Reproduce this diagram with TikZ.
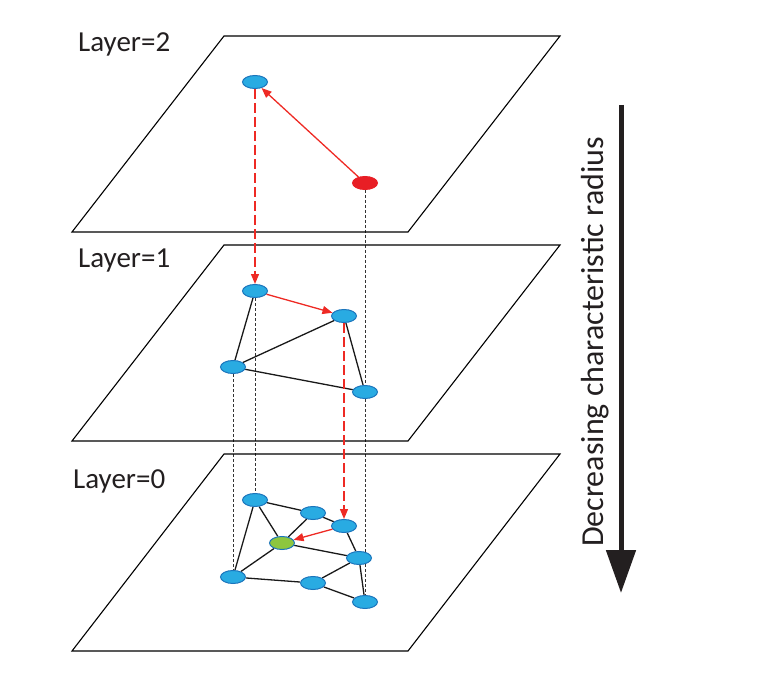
\documentclass[tikz,border=0pt]{standalone}
\usepackage{fontspec}
\setmainfont{Carlito}
\usetikzlibrary{shapes.geometric,arrows.meta}
\pgfdeclarelayer{background}
\pgfsetlayers{background,main}
\definecolor{nodeblue}{HTML}{29ABE2}
\definecolor{nodeedge}{HTML}{1B75BC}
\definecolor{nodered}{HTML}{E81E25}
\definecolor{arrred}{HTML}{EE2A24}
\definecolor{nodegreen}{HTML}{8DC63F}
\definecolor{txtgray}{HTML}{231F20}
\begin{document}
\begin{tikzpicture}[x=1pt,y=-1pt,
  vtx/.style={ellipse, draw=nodeedge, fill=nodeblue, line width=1pt, minimum width=25pt, minimum height=13pt, inner sep=0pt},
  redvtx/.style={vtx, draw=nodered, fill=nodered},
  greenvtx/.style={vtx, fill=nodegreen},
  plane/.style={draw=black, line width=1.1pt, line join=miter},
  edge/.style={draw=black!90, line width=1.3pt},
  proj/.style={draw=black!80, line width=0.8pt, dash pattern=on 3pt off 2pt},
  redarrow/.style={draw=arrred, line width=1.3pt, -{Triangle[length=10pt,width=8pt]}},
  reddash/.style={draw=arrred, line width=1.3pt, dash pattern=on 10pt off 4pt, -{Triangle[length=10pt,width=8pt]}},
  layerlabel/.style={anchor=base west, font=\fontsize{29}{32}\selectfont, text=txtgray, inner sep=0pt},
  bigarrow/.style={draw=txtgray, line width=5pt, -{Triangle[length=43pt,width=29pt]}}
]
\useasboundingbox (0,0) rectangle (772,682);

% planes
\draw[plane] (224,36) -- (560,36) -- (408,232) -- (72,232) -- cycle;
\draw[plane] (224,245) -- (560,245) -- (408,441) -- (72,441) -- cycle;
\draw[plane] (224,454) -- (560,454) -- (408,651) -- (72,651) -- cycle;

% labels
\node[layerlabel] (l2) at (78,52) {Layer=2};
\node[layerlabel] (l1) at (78,267) {Layer=1};
\node[layerlabel] (l0) at (73,488) {Layer=0};

% layer 2
\node[vtx] (b2) at (255,82) {};
\node[redvtx] (r2) at (365,183) {};

% layer 1
\node[vtx] (A) at (255,291) {};
\node[vtx] (B) at (344,316) {};
\node[vtx] (C) at (233,367) {};
\node[vtx] (D) at (365,392) {};

% layer 0
\node[vtx] (n1) at (255,500) {};
\node[vtx] (n2) at (313,513) {};
\node[vtx] (n3) at (344,526) {};
\node[greenvtx] (g) at (282,543) {};
\node[vtx] (n4) at (359,558) {};
\node[vtx] (n5) at (233,577) {};
\node[vtx] (n6) at (313,583) {};
\node[vtx] (n7) at (365,602) {};

\begin{pgfonlayer}{background}
  % projections
  \draw[proj] (r2.south) -- (D.north);
  \draw[proj] (D.south) -- (n7.north);
  \draw[proj] (A.south) -- (n1.north);
  \draw[proj] (C.south) -- (n5.north);
  % layer 1 edges
  \draw[edge] (A) -- (C);
  \draw[edge] (C) -- (B);
  \draw[edge] (C) -- (D);
  \draw[edge] (B) -- (D);
  % layer 0 edges
  \draw[edge] (n1) -- (n2);
  \draw[edge] (n2) -- (n3);
  \draw[edge] (n1) -- (g);
  \draw[edge] (n1) -- (n5);
  \draw[edge] (n2) -- (g);
  \draw[edge] (g) -- (n4);
  \draw[edge] (g) -- (n5);
  \draw[edge] (n3) -- (n4);
  \draw[edge] (n5) -- (n6);
  \draw[edge] (n6) -- (n4);
  \draw[edge] (n6) -- (n7);
  \draw[edge] (n4) -- (n7);
\end{pgfonlayer}

% search path
\draw[redarrow] (r2) -- (b2);
\draw[reddash] (b2.south) -- (A.north);
\draw[redarrow] (A) -- (B);
\draw[reddash] (B.south) -- (n3.north);
\draw[redarrow] (n3) -- (g);

% big arrow
\coordinate (atop) at (621,105);
\coordinate (abot) at (621,593);
\draw[bigarrow] (atop) -- (abot);
\node[rotate=90, anchor=base, font=\fontsize{32}{36}\selectfont, text=txtgray, inner sep=0pt] (rad) at (603,342) {Decreasing characteristic radius};
\end{tikzpicture}
\end{document}
